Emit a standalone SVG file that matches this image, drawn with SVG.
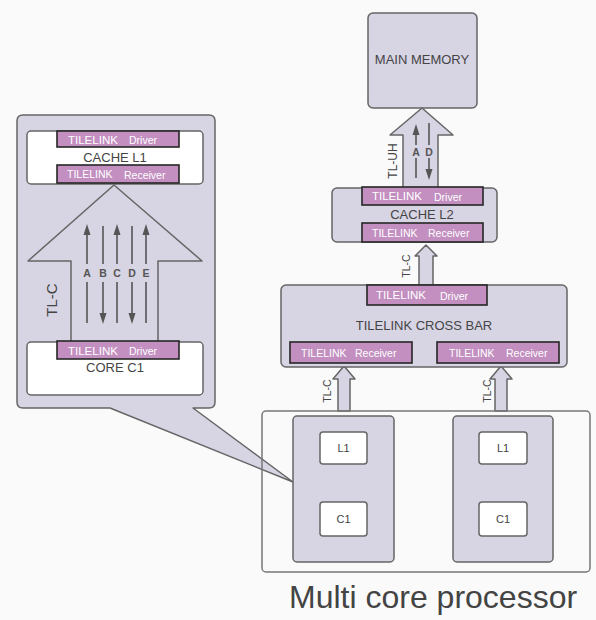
<svg xmlns="http://www.w3.org/2000/svg" width="596" height="620" viewBox="0 0 596 620">
<style>
.bg{fill:#fafafa}
.lp{fill:#d7d4e4;stroke:#666;stroke-width:1.5;stroke-linejoin:round}
.wb{fill:#fff;stroke:#666;stroke-width:1.5}
.tab{fill:#c28fc0;stroke:#262626;stroke-width:1.6}
.t{font-family:"Liberation Sans",Arial,sans-serif;fill:#444}
.big{font-size:13px;text-anchor:middle}
.tl{font-family:"Liberation Sans",Arial,sans-serif;fill:#fff;font-size:11.5px}
.tls{font-family:"Liberation Sans",Arial,sans-serif;fill:#fff;font-size:10.5px}
.lbl{font-family:"Liberation Sans",Arial,sans-serif;fill:#555;font-size:10.5px;font-weight:bold;text-anchor:middle}
.ln{stroke:#555;stroke-width:1.6;fill:none}
.hd{fill:#555}
.rot{font-family:"Liberation Sans",Arial,sans-serif;fill:#444;text-anchor:middle}
</style>
<defs>
<marker id="ah" viewBox="0 0 10 10" refX="9" refY="5" markerWidth="7" markerHeight="7" orient="auto"><path d="M0,1 L10,5 L0,9 z" fill="#555"/></marker>
</defs>
<rect class="bg" x="0" y="0" width="596" height="620"/>

<g id="callout">
<path class="lp" d="M23,115 H209 Q215,115 215,121 V402 Q215,408 209,408 H193 L293,482 L110,408 H23 Q17,408 17,402 V121 Q17,115 23,115 Z"/>
<polygon class="lp" points="114,185 202,261 158,261 158,342 71,342 71,261 28,261"/>
<text class="rot" font-size="15" transform="translate(57,300) rotate(-90)">TL-C</text>
</g>

<g id="cache-l1">
<rect class="wb" x="27" y="131" width="176" height="53" rx="4"/>
<rect class="tab" x="57" y="131" width="122" height="16"/>
<text class="tl" x="68" y="143.5">TILELINK</text>
<text class="tls" x="129" y="143.5">Driver</text>
<text class="t big" x="115" y="162">CACHE L1</text>
<rect class="tab" x="57" y="165" width="122" height="18"/>
<text class="tls" x="67" y="178">TILELINK</text>
<text class="tls" x="124" y="178.5">Receiver</text>
</g>

<g id="core-c1">
<rect class="wb" x="27" y="342" width="176" height="53" rx="4"/>
<rect class="tab" x="57" y="341" width="122" height="18"/>
<text class="tl" x="68" y="354.5">TILELINK</text>
<text class="tls" x="129" y="355">Driver</text>
<text class="t big" x="115" y="372">CORE C1</text>
</g>

<g id="channels-abcde">
<line class="ln" x1="87" y1="232" x2="87" y2="264"/><line class="ln" x1="87" y1="282" x2="87" y2="323"/><polygon class="hd" points="87,224 83.5,235 90.5,235"/>
<line class="ln" x1="103" y1="226" x2="103" y2="264"/><line class="ln" x1="103" y1="282" x2="103" y2="316"/><polygon class="hd" points="103,324 99.5,313 106.5,313"/>
<line class="ln" x1="117" y1="232" x2="117" y2="264"/><line class="ln" x1="117" y1="282" x2="117" y2="323"/><polygon class="hd" points="117,224 113.5,235 120.5,235"/>
<line class="ln" x1="132" y1="226" x2="132" y2="264"/><line class="ln" x1="132" y1="282" x2="132" y2="316"/><polygon class="hd" points="132,324 128.5,313 135.5,313"/>
<line class="ln" x1="146" y1="232" x2="146" y2="264"/><line class="ln" x1="146" y1="282" x2="146" y2="323"/><polygon class="hd" points="146,224 142.5,235 149.5,235"/>
<text class="lbl" x="87" y="277">A</text>
<text class="lbl" x="103" y="277">B</text>
<text class="lbl" x="117" y="277">C</text>
<text class="lbl" x="132" y="277">D</text>
<text class="lbl" x="146" y="277">E</text>
</g>

<g id="main-memory">
<rect class="lp" x="368" y="13" width="109" height="95" rx="5"/>
<text class="t big" x="422" y="64">MAIN MEMORY</text>
</g>

<g id="connectors">
<polygon class="lp" points="422,108 453,135 438,135 438,188 403,188 403,135 390,135"/>
<line class="ln" x1="416" y1="132" x2="416" y2="145"/><line class="ln" x1="416" y1="158" x2="416" y2="178"/><polygon class="hd" points="416,124 412.5,135 419.5,135"/>
<line class="ln" x1="429" y1="123" x2="429" y2="145"/><line class="ln" x1="429" y1="158" x2="429" y2="172"/><polygon class="hd" points="429,180 425.5,169 432.5,169"/>
<text class="lbl" x="416" y="156" font-size="9.5">A</text>
<text class="lbl" x="429" y="156" font-size="9.5">D</text>
<text class="rot" font-size="12" transform="translate(397,161) rotate(-90)">TL-UH</text>

<polygon class="lp" points="426,245 437,256 433,256 433,286 419,286 419,256 415,256"/>
<text class="rot" font-size="10.5" transform="translate(410,266) rotate(-90)">TL-C</text>

<polygon class="lp" points="344,366 355,379 350,379 350,411 338,411 338,379 333,379"/>
<text class="rot" font-size="10.5" transform="translate(331,391) rotate(-90)">TL-C</text>

<polygon class="lp" points="501,366 512,379 507,379 507,411 495,411 495,379 490,379"/>
<text class="rot" font-size="10.5" transform="translate(491,391) rotate(-90)">TL-C</text>

<line class="ln" x1="344" y1="502" x2="344" y2="466" marker-end="url(#ah)"/>
<line class="ln" x1="503" y1="502" x2="503" y2="466" marker-end="url(#ah)"/>
</g>

<g id="cache-l2">
<rect class="lp" x="332" y="188" width="165" height="54" rx="5"/>
<rect class="tab" x="362" y="187" width="121" height="18"/>
<text class="tl" x="372" y="200">TILELINK</text>
<text class="tls" x="434" y="201">Driver</text>
<text class="t big" x="422" y="219">CACHE L2</text>
<rect class="tab" x="362" y="223" width="121" height="19"/>
<text class="tls" x="372" y="236.5">TILELINK</text>
<text class="tls" x="428" y="237">Receiver</text>
</g>

<g id="crossbar">
<rect class="lp" x="281" y="285" width="286" height="82" rx="5"/>
<rect class="tab" x="367" y="285" width="120" height="20"/>
<text class="tl" x="376" y="299">TILELINK</text>
<text class="tls" x="440" y="300">Driver</text>
<text class="t big" x="424" y="330">TILELINK CROSS BAR</text>
<rect class="tab" x="290" y="342" width="122" height="21"/>
<text class="tls" x="301" y="356.5">TILELINK</text>
<text class="tls" x="355" y="357">Receiver</text>
<rect class="tab" x="437" y="342" width="122" height="21"/>
<text class="tls" x="449" y="356.5">TILELINK</text>
<text class="tls" x="506" y="357">Receiver</text>
</g>

<g id="processor">
<rect x="262" y="411" width="328" height="161" rx="4" fill="none" stroke="#777" stroke-width="1.5"/>
<text class="t" x="289" y="608" font-size="32" font-family="Roboto,'Liberation Sans',sans-serif" fill="#333">Multi core processor</text>
</g>

<g id="core-left">
<rect class="lp" x="293" y="416" width="101" height="146" rx="4"/>
<rect class="wb" x="320" y="432" width="47" height="32" rx="3"/>
<text class="t" x="343.5" y="452" font-size="11" text-anchor="middle">L1</text>
<rect class="wb" x="320" y="502" width="47" height="34" rx="3"/>
<text class="t" x="343.5" y="523" font-size="11" text-anchor="middle">C1</text>
</g>

<g id="core-right">
<rect class="lp" x="453" y="416" width="100" height="146" rx="4"/>
<rect class="wb" x="479" y="432" width="48" height="32" rx="3"/>
<text class="t" x="503" y="452" font-size="11" text-anchor="middle">L1</text>
<rect class="wb" x="479" y="502" width="48" height="34" rx="3"/>
<text class="t" x="503" y="523" font-size="11" text-anchor="middle">C1</text>
</g>
</svg>
